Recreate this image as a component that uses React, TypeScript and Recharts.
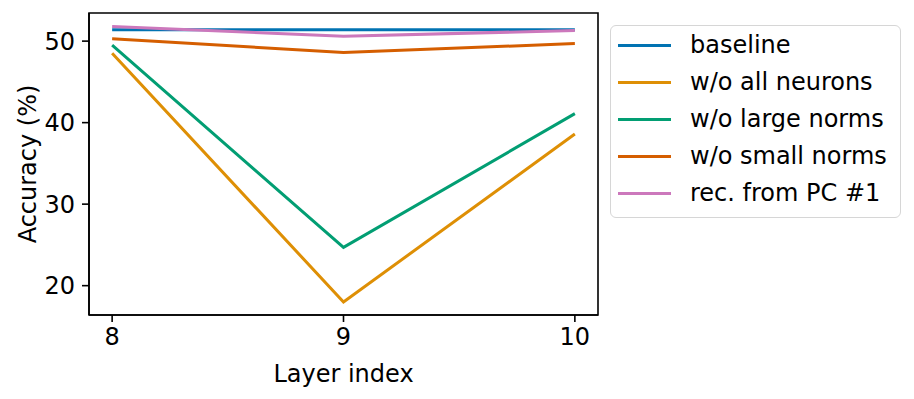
import { LineChart, Line, XAxis, YAxis, ReferenceArea } from "recharts";

const layers = [8, 9, 10];
const baseline = [51.4, 51.4, 51.4];
const withoutAll = [48.5, 18.0, 38.6];
const withoutLarge = [49.5, 24.7, 41.1];
const withoutSmall = [50.3, 48.6, 49.7];
const recPC1 = [51.8, 50.6, 51.3];
const yTicks = [20, 30, 40, 50];

const series = [
  { key: "baseline", name: "baseline", color: "#0173b2", values: baseline },
  { key: "woAll", name: "w/o all neurons", color: "#de8f05", values: withoutAll },
  { key: "woLarge", name: "w/o large norms", color: "#029e73", values: withoutLarge },
  { key: "woSmall", name: "w/o small norms", color: "#d55e00", values: withoutSmall },
  { key: "rec", name: "rec. from PC #1", color: "#cc78bc", values: recPC1 },
];

const data = layers.map((layer, i) => {
  const row: Record<string, number> = { layer };
  series.forEach((s) => {
    row[s.key] = s.values[i];
  });
  return row;
});

const FONT = "'DejaVu Sans', sans-serif";
const tickStyle = { fontSize: 24, fill: "#000", fontFamily: FONT };

// matplotlib-style legend box, placed beside the plot
function LegendBox() {
  return (
    <div
      style={{
        position: "absolute",
        left: 610,
        top: 25,
        width: 291,
        height: 193,
        boxSizing: "border-box",
        border: "1.5px solid #d6d6d6",
        borderRadius: 6,
        background: "#fff",
        paddingTop: 1,
        paddingLeft: 7,
        fontFamily: FONT,
        fontSize: 24,
        color: "#000",
      }}
    >
      {series.map((s) => (
        <div key={s.key} style={{ display: "flex", alignItems: "center", height: 37 }}>
          <span style={{ width: 53, height: 3, background: s.color, marginRight: 19 }} />
          <span style={{ lineHeight: "37px", whiteSpace: "nowrap" }}>{s.name}</span>
        </div>
      ))}
    </div>
  );
}

export default function App() {
  return (
    <div style={{ position: "fixed", left: 0, top: 0, width: 914, height: 399, background: "#fff" }}>
      <LineChart
        width={914}
        height={399}
        data={data}
        margin={{ top: 13, right: 316, bottom: 0, left: 0 }}
      >
        <XAxis
          dataKey="layer"
          type="number"
          domain={[7.9, 10.1]}
          ticks={layers}
          height={84}
          tick={tickStyle}
          tickSize={7}
          tickMargin={6}
          stroke="#000"
          strokeWidth={1.6}
          label={{ value: "Layer index", position: "insideBottom", offset: 17, style: tickStyle }}
        />
        <YAxis
          type="number"
          domain={[16.4, 53.45]}
          ticks={yTicks}
          width={89}
          tick={tickStyle}
          tickSize={7}
          tickMargin={7}
          stroke="#000"
          strokeWidth={1.6}
          label={{
            value: "Accuracy (%)",
            angle: -90,
            position: "insideLeft",
            offset: 27,
            style: { ...tickStyle, textAnchor: "middle" },
          }}
        />
        <ReferenceArea
          x1={7.9}
          x2={10.1}
          y1={16.4}
          y2={53.45}
          fill="none"
          stroke="#000"
          strokeWidth={1.6}
          ifOverflow="visible"
        />
        {series.map((s) => (
          <Line
            key={s.key}
            type="linear"
            dataKey={s.key}
            name={s.name}
            stroke={s.color}
            strokeWidth={3}
            dot={false}
            activeDot={false}
            isAnimationActive={false}
          />
        ))}
      </LineChart>
      <LegendBox />
    </div>
  );
}
